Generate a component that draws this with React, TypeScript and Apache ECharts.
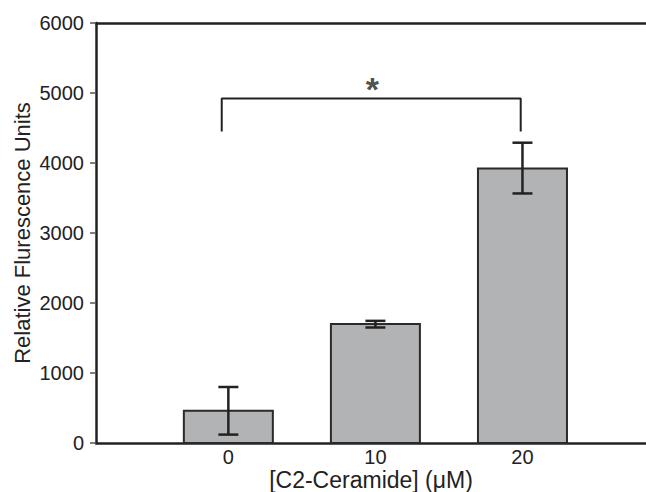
import React, { useEffect, useRef } from "react";
import * as echarts from "echarts";

const categories = ["0", "10", "20"];
const positions = [0, 1, 2];
const means = [460, 1700, 3920];
const errLow = [120, 1650, 3565];
const errHigh = [800, 1745, 4290];
const yTicks = [0, 1000, 2000, 3000, 4000, 5000, 6000];
const bracketX = [-0.045, -0.045, 1.988, 1.988];
const bracketY = [4450, 4920, 4920, 4450];
const starPos = [0.98, 5130];

export default function App() {
  const ref = useRef<HTMLDivElement>(null);
  useEffect(() => {
    document.body.style.margin = "0";
    const chart = echarts.init(ref.current!, null, { renderer: "svg" });
    const dark = "#222222";
    const font = "Liberation Sans, Arial, Helvetica, sans-serif";
    const xMin = -0.9;
    const xMax = 2.84;
    chart.setOption({
      animation: false,
      backgroundColor: "#ffffff",
      grid: {
        left: 96,
        right: 0,
        top: 23,
        bottom: 49,
        containLabel: false,
        outerBoundsMode: "none",
      },
      xAxis: [
        {
          type: "value",
          min: xMin,
          max: xMax,
          axisLine: { show: true, onZero: false, lineStyle: { color: dark, width: 2.5 } },
          axisTick: { show: false },
          splitLine: { show: false },
          axisLabel: {
            customValues: positions,
            formatter: (v: number) => {
              const i = positions.indexOf(Math.round(v));
              return i >= 0 && Math.abs(v - positions[i]) < 1e-6 ? categories[i] : "";
            },
            color: dark,
            fontSize: 20,
            fontFamily: font,
            margin: 4,
          },
          name: "[C2-Ceramide] (\u03bcM)",
          nameLocation: "middle",
          nameGap: 25,
          nameMoveOverlap: false,
          nameTextStyle: { color: dark, fontSize: 23, fontFamily: font },
        },
        {
          type: "value",
          position: "top",
          min: xMin,
          max: xMax,
          axisLine: { show: true, onZero: false, lineStyle: { color: dark, width: 2.5 } },
          axisTick: { show: false },
          axisLabel: { show: false },
          splitLine: { show: false },
        },
      ],
      yAxis: {
        type: "value",
        min: yTicks[0],
        max: yTicks[yTicks.length - 1],
        interval: 1000,
        axisLine: { show: true, onZero: false, lineStyle: { color: dark, width: 2.5 } },
        axisTick: { show: true, length: 6, lineStyle: { color: "#555555", width: 1.5 } },
        splitLine: { show: false },
        axisLabel: {
          color: dark,
          fontSize: 20,
          fontFamily: font,
          margin: 12,
          formatter: (v: number) => String(v),
        },
        name: "Relative Flurescence Units",
        nameLocation: "middle",
        nameGap: 63,
        nameMoveOverlap: false,
        nameTextStyle: { color: dark, fontSize: 22, fontFamily: font },
      },
      series: [
        {
          type: "custom",
          data: positions.map((p, i) => [p, means[i]]),
          z: 2,
          renderItem: (params: any, api: any) => {
            const x = api.value(0);
            const top = api.coord([x, api.value(1)]);
            const base = api.coord([x, 0]);
            const w = 89;
            return {
              type: "rect",
              shape: { x: top[0] - w / 2, y: top[1], width: w, height: base[1] - top[1] },
              style: { fill: "#b2b3b5", stroke: "#2a2a2a", lineWidth: 2 },
            };
          },
        },
        {
          type: "custom",
          data: positions.map((p, i) => [p, errLow[i], errHigh[i]]),
          z: 3,
          renderItem: (params: any, api: any) => {
            const x = api.value(0);
            const lo = api.coord([x, api.value(1)]);
            const hi = api.coord([x, api.value(2)]);
            const hw = 10;
            const style = { stroke: dark, lineWidth: 2.5 };
            return {
              type: "group",
              children: [
                { type: "line", shape: { x1: lo[0], y1: lo[1], x2: hi[0], y2: hi[1] }, style },
                { type: "line", shape: { x1: lo[0] - hw, y1: lo[1], x2: lo[0] + hw, y2: lo[1] }, style },
                { type: "line", shape: { x1: hi[0] - hw, y1: hi[1], x2: hi[0] + hw, y2: hi[1] }, style },
              ],
            };
          },
        },
        {
          type: "line",
          data: bracketX.map((x, i) => [x, bracketY[i]]),
          symbol: "none",
          lineStyle: { color: dark, width: 2 },
          z: 3,
        },
        {
          type: "scatter",
          data: [starPos],
          symbolSize: 0,
          label: {
            show: true,
            formatter: "*",
            position: "inside",
            color: dark,
            fontSize: 34,
            fontWeight: "bold",
            fontFamily: font,
            offset: [0, 5],
          },
        },
      ],
    });
    return () => chart.dispose();
  }, []);
  return <div ref={ref} style={{ width: 646, height: 492 }} />;
}
